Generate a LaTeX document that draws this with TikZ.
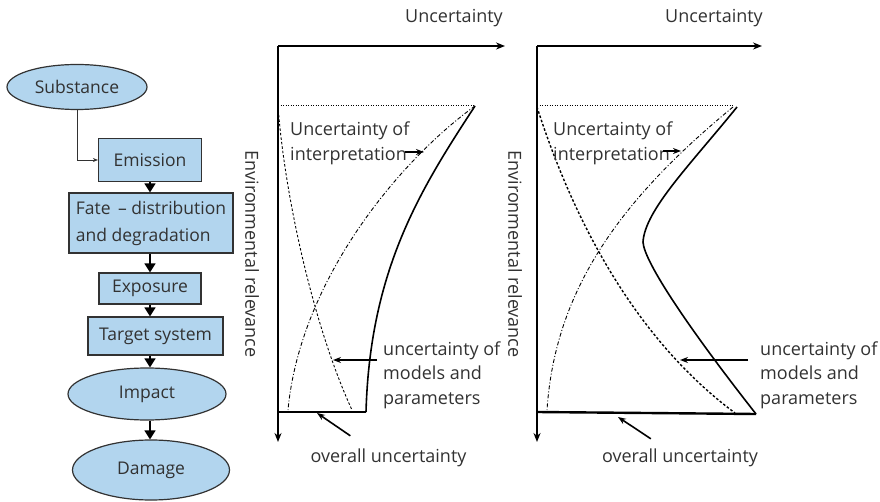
\documentclass[tikz,border=0pt]{standalone}
\usepackage{fontspec}
\setmainfont{Open Sans}
\usepackage{xcolor}
\usepackage{tikz}
\usetikzlibrary{shapes.geometric,arrows.meta,positioning,calc}
\definecolor{boxblue}{RGB}{178,213,238}
\definecolor{inkgray}{RGB}{50,50,50}

\begin{document}
\begin{tikzpicture}[x=1pt, y=-1pt,
    stage/.style={rectangle, draw=inkgray, line width=1.2pt, fill=boxblue, inner sep=0pt, align=left, text=inkgray, font=\fontsize{17.5}{27}\selectfont},
    endpoint/.style={ellipse, draw=inkgray, line width=1.2pt, fill=boxblue, inner sep=0pt, text=inkgray, font=\fontsize{17.5}{24}\selectfont},
    flow/.style={-{Triangle[length=9pt, width=11pt]}, line width=1.6pt},
    feed/.style={-{Stealth[length=5pt, width=4pt]}, line width=0.8pt, draw=inkgray},
    axis/.style={-{Stealth[length=9pt, width=7pt]}, line width=1.8pt},
    lbl/.style={inner sep=0pt, align=left, text=inkgray, font=\fontsize{18}{24.5}\selectfont},
    pointer/.style={-{Stealth[length=8pt, width=6pt]}, line width=1.6pt},
    interp/.style={line width=0.9pt, dash pattern=on 4pt off 2pt on 1pt off 2pt},
    models/.style={line width=0.9pt, dash pattern=on 2.5pt off 2pt},
    topline/.style={line width=1pt, dash pattern=on 1pt off 1.5pt}]

\useasboundingbox (0,0) rectangle (880,502);

% Flow chart on the left
\node[endpoint, minimum width=140pt, minimum height=45pt] (subst) at (77,87) {Substance};
\node[stage, minimum width=103pt, minimum height=43pt] (emis) at (150,160) {Emission};
\node[stage, minimum width=164pt, minimum height=60pt] (fate) at (151,223) {Fate \,-- distribution\\and degradation};
\node[stage, minimum width=102pt, minimum height=31pt] (expo) at (150,288.5) {Exposure};
\node[stage, minimum width=135pt, minimum height=38pt] (target) at (155.5,336) {Target system};
\node[endpoint, minimum width=158pt, minimum height=52pt] (impact) at (147,394) {Impact};
\node[endpoint, minimum width=157pt, minimum height=60pt] (damage) at (151,470) {Damage};

\draw[feed] (subst.south) |- (emis.west);
\draw[flow] (emis.south) -- (emis.south |- fate.north);
\draw[flow] (expo.north |- fate.south) -- (expo.north);
\draw[flow] (expo.south) -- (expo.south |- target.north);
\draw[flow] (expo.south |- target.south) -- (expo.south |- impact.north);
\draw[flow] (expo.south |- impact.south) -- (expo.south |- damage.north);

% Left chart: axes
\coordinate (Lo) at (278,46);
\coordinate (Lx) at (505,46);
\coordinate (Ly) at (278,442);
\draw[axis] (Lo) -- (Lx);
\draw[axis] (Lo) -- (Ly);
\node[lbl] (Lunc) at (454,18) {Uncertainty};
\node[lbl, rotate=-90] (Lenv) at (252,254) {Environmental relevance};

% Left chart: curves
\draw[topline] (278,106) -- (475,106);
\draw[line width=1.6pt] (475,106) .. controls (420,190) and (370,270) .. (366,412);
\draw[line width=2.4pt] (278,412) -- (366,412);
\draw[interp] (475,106) .. controls (400,160) and (300,280) .. (288,410);
\draw[models] (278,106) .. controls (285,200) and (315,330) .. (352,410);

% Left chart: labels
\node[lbl, anchor=west] (Lint) at (290,143.5) {Uncertainty of\\interpretation};
\coordinate (Lintp) at (424,152);
\draw[pointer] ($(Lint.east |- Lintp)+(-5,0)$) -- (Lintp);
\node[lbl, anchor=west] (Lmod) at (383,375) {uncertainty of\\models and\\parameters};
\coordinate (Lmodp) at (333,360);
\draw[pointer] ($(Lmod.west |- Lmodp)+(-6,0)$) -- (Lmodp);
\node[lbl] (Lall) at (388.5,458) {overall uncertainty};
\coordinate (Lallp) at (317,413);
\draw[pointer] ($(Lall.north west)+(40,-13)$) -- (Lallp);

% Right chart: axes
\coordinate (Ro) at (537,46);
\coordinate (Rx) at (762,46);
\coordinate (Ry) at (537,442);
\draw[axis] (Ro) -- (Rx);
\draw[axis] (Ro) -- (Ry);
\node[lbl] (Runc) at (714,18) {Uncertainty};
\node[lbl, rotate=-90] (Renv) at (515,254) {Environmental relevance};

% Right chart: curves
\draw[topline] (537,106) -- (733,106);
\draw[line width=1.6pt] (737,107) .. controls (690,165) and (645,210) .. (643,242)
    .. controls (644,262) and (690,330) .. (756,414);
\draw[line width=2.4pt] (537,412) -- (756,414);
\draw[interp] (733,107) .. controls (620,200) and (555,290) .. (547,410);
\draw[models, line width=1.4pt] (537,107) .. controls (570,210) and (630,335) .. (735,413);

% Right chart: labels
\node[lbl, anchor=west] (Rint) at (553,143.5) {Uncertainty of\\interpretation};
\coordinate (Rintp) at (681,151);
\draw[pointer] ($(Rint.east |- Rintp)+(-10,0)$) -- (Rintp);
\node[lbl, anchor=west] (Rmod) at (760,375) {uncertainty of\\models and\\parameters};
\coordinate (Rmodp) at (680,360);
\draw[pointer] ($(Rmod.west |- Rmodp)+(-12,0)$) -- (Rmodp);
\node[lbl] (Rall) at (680,458) {overall uncertainty};
\coordinate (Rallp) at (618,417);
\draw[pointer] ($(Rall.north west)+(49,-10)$) -- (Rallp);

\end{tikzpicture}
\end{document}
